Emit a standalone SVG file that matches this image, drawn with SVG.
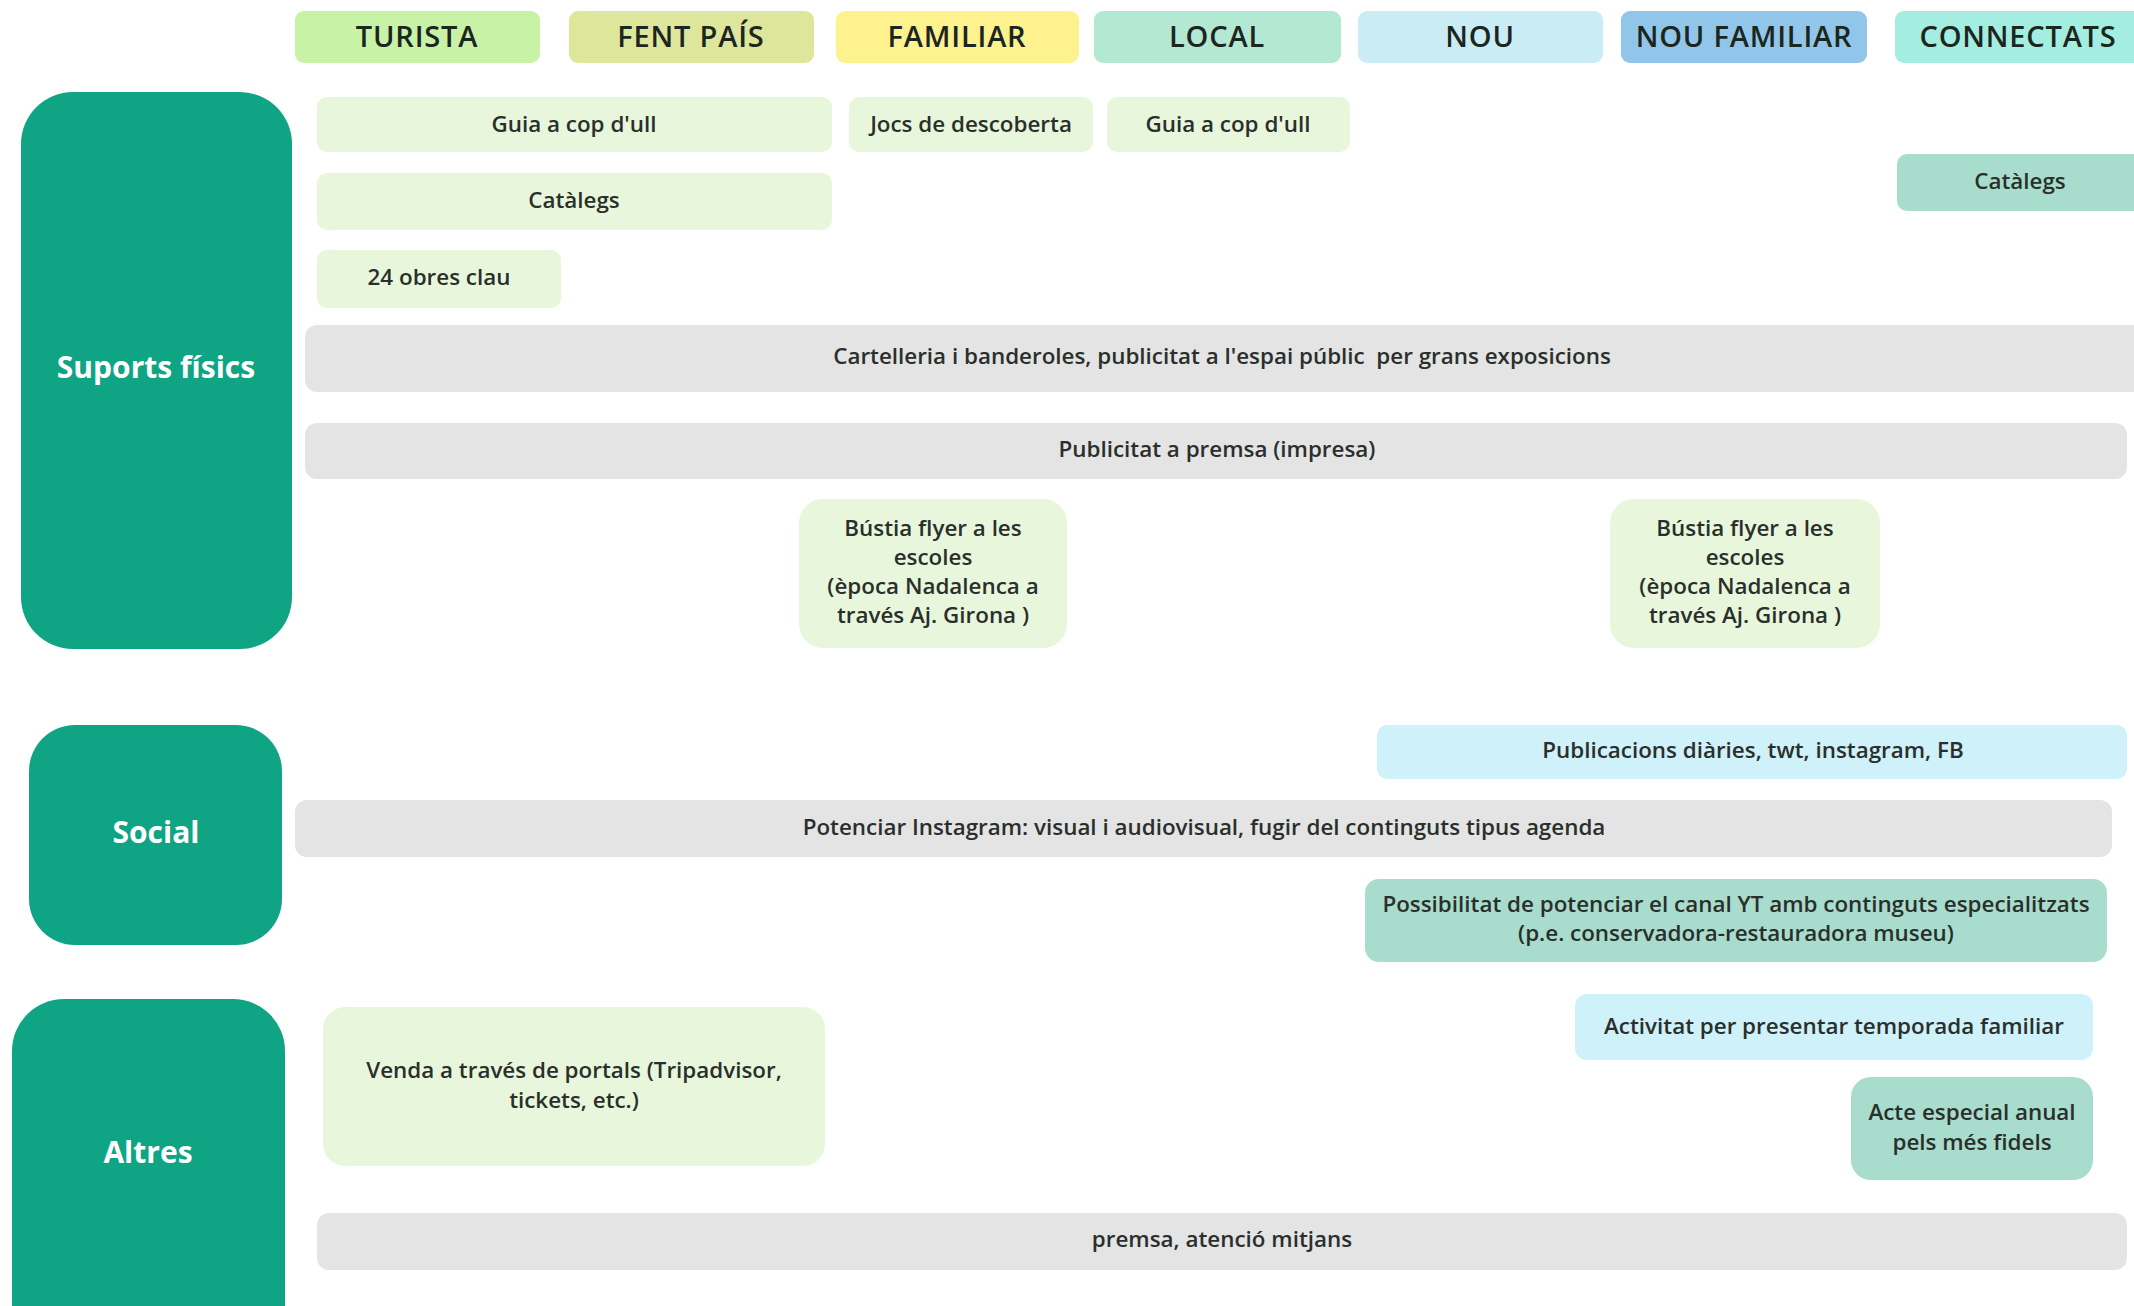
<svg xmlns="http://www.w3.org/2000/svg" width="2134" height="1306" viewBox="0 0 2134 1306">
<style>
.hdr{font-family:"Open Sans","Noto Sans","Liberation Sans",sans-serif;font-weight:600;font-size:29px;fill:#1c2620;text-anchor:middle;letter-spacing:0.8px}
.cat{font-family:"Open Sans","Noto Sans","Liberation Sans",sans-serif;font-weight:700;font-size:30px;fill:#ffffff;text-anchor:middle}
.t{font-family:"Open Sans","Noto Sans","Liberation Sans",sans-serif;font-weight:600;font-size:22.4px;fill:#2a2f2c;text-anchor:middle}
.catbox{fill:#0fa584}
.g{fill:#e8f7dc}
.gr{fill:#e4e4e4}
.b{fill:#cff1f9}
.m{fill:#a8ddcd}
</style>
<rect width="2134" height="1306" fill="#ffffff"/>

<g id="headers">
<g id="h-turista"><rect x="295" y="11" width="245" height="52" rx="9" fill="#c8f2a6"/><text class="hdr" x="417" y="47">TURISTA</text></g>
<g id="h-fentpais"><rect x="569" y="11" width="245" height="52" rx="9" fill="#dee69c"/><text class="hdr" x="691" y="47">FENT PAÍS</text></g>
<g id="h-familiar"><rect x="836" y="11" width="243" height="52" rx="9" fill="#fef28e"/><text class="hdr" x="957" y="47">FAMILIAR</text></g>
<g id="h-local"><rect x="1094" y="11" width="247" height="52" rx="9" fill="#b3e8d3"/><text class="hdr" x="1217" y="47">LOCAL</text></g>
<g id="h-nou"><rect x="1358" y="11" width="245" height="52" rx="9" fill="#c9ecf5"/><text class="hdr" x="1480" y="47">NOU</text></g>
<g id="h-noufamiliar"><rect x="1621" y="11" width="246" height="52" rx="9" fill="#91c6ea"/><text class="hdr" x="1744" y="47">NOU FAMILIAR</text></g>
<g id="h-connectats"><rect x="1895" y="11" width="250" height="52" rx="9" fill="#a3eee0"/><text class="hdr" x="2018" y="47">CONNECTATS</text></g>
</g>

<g id="categories">
<g id="c-suports"><rect class="catbox" x="21" y="92" width="271" height="557" rx="52"/><text class="cat" x="156" y="378">Suports físics</text></g>
<g id="c-social"><rect class="catbox" x="29" y="725" width="253" height="220" rx="46"/><text class="cat" x="156" y="843">Social</text></g>
<g id="c-altres"><rect class="catbox" x="12" y="999" width="273" height="360" rx="52"/><text class="cat" x="148" y="1163">Altres</text></g>
</g>

<g id="items">
<g id="i-guia1"><rect class="g" x="317" y="97" width="515" height="55" rx="10"/><text class="t" x="574" y="132">Guia a cop d'ull</text></g>
<g id="i-jocs"><rect class="g" x="849" y="97" width="244" height="55" rx="10"/><text class="t" x="971" y="132">Jocs de descoberta</text></g>
<g id="i-guia2"><rect class="g" x="1107" y="97" width="243" height="55" rx="10"/><text class="t" x="1228" y="132">Guia a cop d'ull</text></g>
<g id="i-catalegs1"><rect class="g" x="317" y="173" width="515" height="57" rx="10"/><text class="t" x="574" y="208">Catàlegs</text></g>
<g id="i-catalegs2"><rect class="m" x="1897" y="154" width="250" height="57" rx="10"/><text class="t" x="2020" y="189">Catàlegs</text></g>
<g id="i-24obres"><rect class="g" x="317" y="250" width="244" height="58" rx="10"/><text class="t" x="439" y="285">24 obres clau</text></g>
<g id="i-cartelleria"><rect class="gr" x="305" y="325" width="1840" height="67" rx="12"/><text class="t" x="1222" y="364" xml:space="preserve">Cartelleria i banderoles, publicitat a l'espai públic  per grans exposicions</text></g>
<g id="i-premsa-impresa"><rect class="gr" x="305" y="423" width="1822" height="56" rx="12"/><text class="t" x="1217" y="457">Publicitat a premsa (impresa)</text></g>
<g id="i-bustia1"><rect class="g" x="799" y="499" width="268" height="149" rx="24"/>
<text class="t" x="933" y="536">Bústia flyer a les</text><text class="t" x="933" y="565">escoles</text><text class="t" x="933" y="594">(època Nadalenca a</text><text class="t" x="933" y="623">través Aj. Girona )</text></g>
<g id="i-bustia2"><rect class="g" x="1610" y="499" width="270" height="149" rx="24"/>
<text class="t" x="1745" y="536">Bústia flyer a les</text><text class="t" x="1745" y="565">escoles</text><text class="t" x="1745" y="594">(època Nadalenca a</text><text class="t" x="1745" y="623">través Aj. Girona )</text></g>
<g id="i-publicacions"><rect class="b" x="1377" y="725" width="750" height="54" rx="10"/><text class="t" x="1753" y="758">Publicacions diàries, twt, instagram, FB</text></g>
<g id="i-instagram"><rect class="gr" x="295" y="800" width="1817" height="57" rx="12"/><text class="t" x="1204" y="835">Potenciar Instagram: visual i audiovisual, fugir del continguts tipus agenda</text></g>
<g id="i-yt"><rect class="m" x="1365" y="879" width="742" height="83" rx="14"/>
<text class="t" x="1736" y="912">Possibilitat de potenciar el canal YT amb continguts especialitzats</text><text class="t" x="1736" y="941">(p.e. conservadora-restauradora museu)</text></g>
<g id="i-activitat"><rect class="b" x="1575" y="994" width="518" height="66" rx="12"/><text class="t" x="1834" y="1034">Activitat per presentar temporada familiar</text></g>
<g id="i-acte"><rect class="m" x="1851" y="1077" width="242" height="103" rx="20"/>
<text class="t" x="1972" y="1120">Acte especial anual</text><text class="t" x="1972" y="1150">pels més fidels</text></g>
<g id="i-venda"><rect class="g" x="323" y="1007" width="502" height="159" rx="22"/>
<text class="t" x="574" y="1078">Venda a través de portals (Tripadvisor,</text><text class="t" x="574" y="1108">tickets, etc.)</text></g>
<g id="i-premsa"><rect class="gr" x="317" y="1213" width="1810" height="57" rx="12"/><text class="t" x="1222" y="1247">premsa, atenció mitjans</text></g>
</g>

<g id="connectors"></g>
</svg>
